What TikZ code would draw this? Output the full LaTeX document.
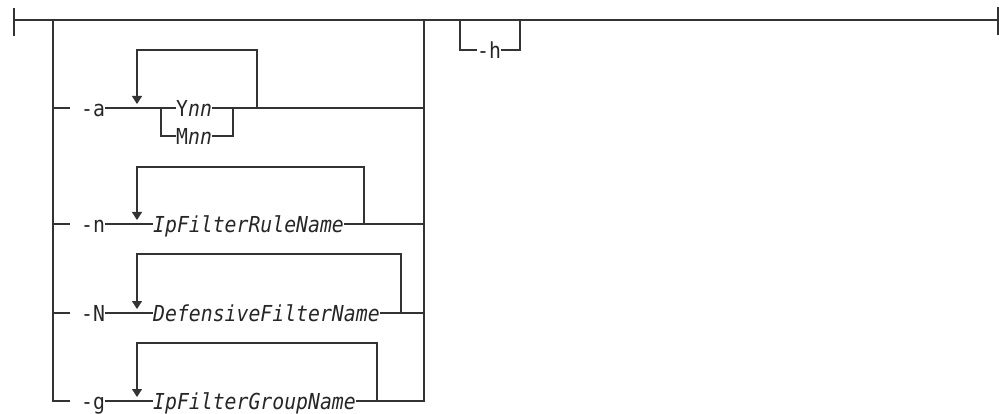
\documentclass[tikz,border=0pt]{standalone}
\usepackage{fontspec}
\newfontfamily\rrfont{DejaVu Sans Mono}[ItalicFont={DejaVu Sans Mono Oblique},FakeStretch=0.9]
\usetikzlibrary{arrows.meta}
\begin{document}
\begin{tikzpicture}[x=1pt,y=-1pt,
  rail/.style={draw=black!80, line width=1.4pt},
  lbl/.style={inner sep=0pt, anchor=west, text height=22pt, text depth=5pt,
    font=\rrfont\fontsize{22}{24}\selectfont, text=black!85},
  loopar/.style={-{Triangle[width=10pt,length=8pt]}}]
\useasboundingbox (0,0) rectangle (999,414);
% main line
\coordinate (start) at (14,20);
\coordinate (end) at (998,20);
\coordinate (st) at (14,8);
\coordinate (sb) at (14,36);
\coordinate (et) at (998,7);
\coordinate (eb) at (998,35);
\coordinate (bl) at (53,20);
\coordinate (br) at (424,20);
\coordinate (hl) at (460,20);
\coordinate (hr) at (520,20);
\draw[rail] (st) -- (sb);
\draw[rail] (et) -- (eb);
\draw[rail] (start) -- (end);
% -h
\node[lbl] (h) at (477,50) {-h};
\draw[rail] (hl) |- (h.west);
\draw[rail] (h.east) -| (hr);
% -a row
\coordinate (a0) at (53,108);
\coordinate (a1) at (70,108);
\node[lbl] (la) at (81,108) {-a};
\coordinate (ac) at (161,108);
\node[lbl] (y) at (176,108) {Y\itshape nn};
\node[lbl] (m) at (176,136) {M\itshape nn};
\coordinate (ad) at (233,108);
\coordinate (aloop) at (257,108);
\coordinate (aR) at (424,108);
\coordinate (atop) at (137,50);
\coordinate (atip) at (137,104);
\draw[rail] (a0) -- (a1);
\draw[rail] (la.east) -- (ac) -- (y.west);
\draw[rail] (ac) |- (m.west);
\draw[rail] (y.east) -- (ad) -- (aR);
\draw[rail] (m.east) -| (ad);
\draw[rail,loopar] (aloop) |- (atop) -- (atip);
% -n row
\coordinate (n0) at (53,224);
\coordinate (n1) at (70,224);
\node[lbl] (ln) at (81,224) {-n};
\node[lbl] (nt) at (153,224) {\itshape IpFilterRuleName};
\coordinate (nloop) at (364,224);
\coordinate (ntop) at (137,167);
\coordinate (ntip) at (137,220);
\coordinate (nR) at (424,224);
\draw[rail] (n0) -- (n1);
\draw[rail] (ln.east) -- (nt.west);
\draw[rail] (nt.east) -- (nR);
\draw[rail,loopar] (nloop) |- (ntop) -- (ntip);
% -N row
\coordinate (N0) at (53,313);
\coordinate (N1) at (70,313);
\node[lbl] (lN) at (81,313) {-N};
\node[lbl] (Nt) at (153,313) {\itshape DefensiveFilterName};
\coordinate (Nloop) at (401,313);
\coordinate (Ntop) at (137,254);
\coordinate (Ntip) at (137,309);
\coordinate (NR) at (424,313);
\draw[rail] (N0) -- (N1);
\draw[rail] (lN.east) -- (Nt.west);
\draw[rail] (Nt.east) -- (NR);
\draw[rail,loopar] (Nloop) |- (Ntop) -- (Ntip);
% -g row
\coordinate (g1) at (70,401);
\node[lbl] (lg) at (81,401) {-g};
\node[lbl] (gt) at (153,401) {\itshape IpFilterGroupName};
\coordinate (gloop) at (377,401);
\coordinate (gtop) at (137,343);
\coordinate (gtip) at (137,397);
\draw[rail] (bl) |- (g1);
\draw[rail] (lg.east) -- (gt.west);
\draw[rail] (gt.east) -| (br);
\draw[rail,loopar] (gloop) |- (gtop) -- (gtip);
\end{tikzpicture}
\end{document}
